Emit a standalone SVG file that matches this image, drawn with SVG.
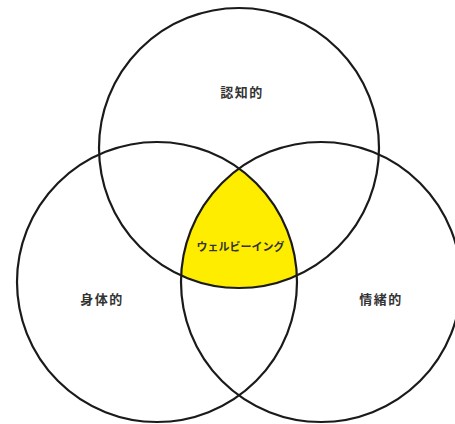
<svg xmlns="http://www.w3.org/2000/svg" width="455" height="424" viewBox="0 0 455 424">
<style>
.c{fill:none;stroke:#1a1a1a;stroke-width:2.2}
.t{font-family:"Noto Sans CJK JP","Noto Sans",sans-serif;font-size:13px;font-weight:bold;fill:#333;text-anchor:middle;dominant-baseline:central}
.s{letter-spacing:1.5px}
</style>
<rect width="455" height="424" fill="#fff"/>
<g id="center">
<path d="M239,168.53 A140,140 0 0 0 181.1,275.5 A140,140 0 0 0 296.9,275.5 A140,140 0 0 0 239,168.53 Z" fill="#ffed00"/>
</g>
<g id="cognitive"><circle class="c" cx="239" cy="148" r="140"/><text class="t s" x="242" y="91">認知的</text></g>
<g id="physical"><circle class="c" cx="157" cy="282" r="140"/><text class="t s" x="102" y="298">身体的</text></g>
<g id="emotional"><circle class="c" cx="321" cy="282" r="140"/><text class="t s" x="381" y="298">情緒的</text></g>
<g id="wellbeing-label"><text class="t" x="240.5" y="246" style="font-size:11px">ウェルビーイング</text></g>
<g id="connectors"/>
</svg>
